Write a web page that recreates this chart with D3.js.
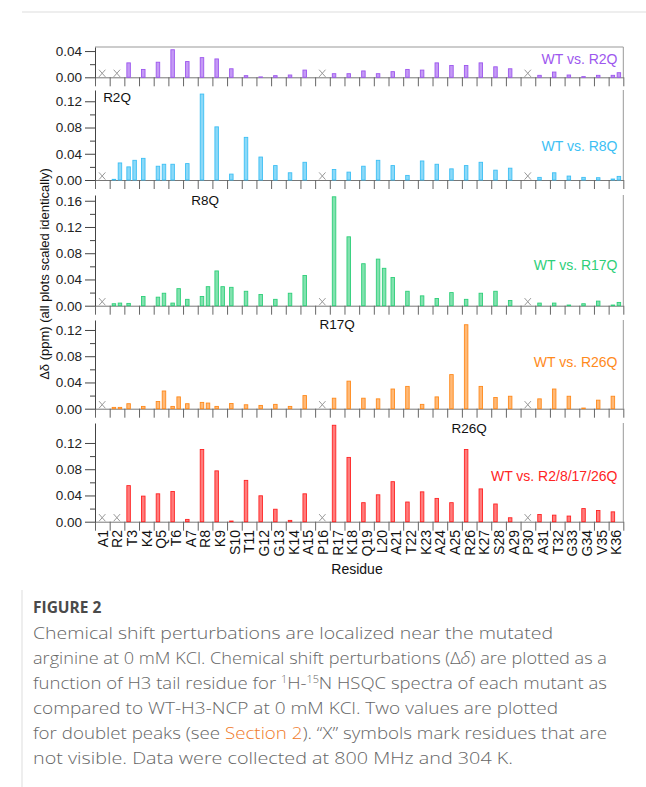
<!DOCTYPE html>
<html><head><meta charset="utf-8">
<script src="https://cdn.jsdelivr.net/npm/d3@7"></script>
<style>body{margin:0;background:#fff}svg{display:block}</style>
</head><body>
<svg id="c" width="646" height="787"></svg>
<script>
// ---------- data ----------
const residues = ["A1","R2","T3","K4","Q5","T6","A7","R8","K9","S10","T11","G12","G13","K14","A15","P16","R17","K18","Q19","L20","A21","T22","K23","A24","A25","R26","K27","S28","A29","P30","A31","T32","G33","G34","V35","K36"];
// null = residue not visible ("X")
const r2qA = [null,null,0.022,0.012,0.023,0.042,0.024,0.030,0.028,0.013,0.0025,0.0006,0.0025,0.0035,0.011,null,0.0055,0.0055,0.0097,0.0055,0.0086,0.012,0.011,0.022,0.018,0.018,0.022,0.016,0.013,null,0.003,0.008,0.0035,0.001,0.003,0.003];
const r2qB = {K36:0.007};
const r8qA = [null,0.001,0.020,0.033,0.021,0.024,0.025,0.131,0.081,0.009,0.065,0.035,0.022,0.011,0.027,null,0.016,0.012,0.021,0.030,0.022,0.007,0.029,0.024,0.017,0.022,0.027,0.015,0.018,null,0.004,0.011,0.006,0.004,0.0035,0.0015];
const r8qB = {R2:0.026,T3:0.030,Q5:0.024,K36:0.0055};
const r17qA = [null,0.003,0.0035,0.014,0.013,0.004,0.0097,0.014,0.053,0.028,0.022,0.017,0.0097,0.019,0.046,null,0.166,0.105,0.064,0.071,0.043,0.022,0.015,0.011,0.020,0.0097,0.019,0.022,0.008,null,0.004,0.004,0.001,0.003,0.007,0.001];
const r17qB = {R2:0.004,Q5:0.019,T6:0.026,R8:0.029,K9:0.029,L20:0.057,K36:0.005};
const r26qA = [null,0.002,0.0076,0.0035,0.011,0.0035,0.0076,0.0096,0.0035,0.008,0.006,0.005,0.0066,0.0035,0.020,null,0.016,0.042,0.016,0.015,0.030,0.034,0.0066,0.018,0.052,0.128,0.034,0.017,0.019,null,0.015,0.030,0.019,0.001,0.013,0.019];
const r26qB = {R2:0.002,Q5:0.027,T6:0.018,R8:0.0086};
const allA = [null,null,0.055,0.039,0.0425,0.046,0.0035,0.110,0.0775,0.001,0.063,0.0395,0.019,0.002,0.0425,null,0.147,0.098,0.029,0.041,0.061,0.030,0.0455,0.0355,0.029,0.110,0.050,0.027,0.006,null,0.011,0.010,0.0086,0.020,0.017,0.015];
const allB = {};
const seriesNames = ["WT vs. R2Q","WT vs. R8Q","WT vs. R17Q","WT vs. R26Q","WT vs. R2/8/17/26Q"];
const mutLabels = [null,"R2Q","R8Q","R17Q","R26Q"];
const mutResidues = [null,"R2","R8","R17","R26"];
const majorTicks = [[0,0.04],[0,0.04,0.08,0.12],[0,0.04,0.08,0.12,0.16],[0,0.04,0.08,0.12],[0,0.04,0.08,0.12]];
const minorTicks = [[0.02],[0.02,0.06,0.10],[0.02,0.06,0.10,0.14],[0.02,0.06,0.10],[0.02,0.06,0.10]];

// ---------- layout ----------
const svg = d3.select("#c");
const X0 = 95, X1 = 623.3, K = 656;
const colors = ["#9d57ee","#3dbff4","#2ecf79","#ff8a1c","#ff2424"];
const panels = [
  {top:47, base:77.3, A:r2qA, B:r2qB, labY:64.3, mutY:null},
  {top:90, base:180, A:r8qA, B:r8qB, labY:151, mutY:101.5},
  {top:195, base:305.7, A:r17qA, B:r17qB, labY:270, mutY:204.5},
  {top:320, base:408.7, A:r26qA, B:r26qB, labY:367, mutY:329.3},
  {top:423, base:521.7, A:allA, B:allB, labY:481, mutY:432.5}
];
const xb = d3.scaleBand().domain(residues).range([X0,X1]);
const bw = xb.bandwidth();
const xl = d3.scaleLinear().domain([0,36]).range([X0,X1]);
const FONT = "'Liberation Sans', Arial, sans-serif";

// card border
svg.append("line").attr("x1",22).attr("x2",646).attr("y1",12).attr("y2",12).attr("stroke","#ddd");
svg.append("line").attr("x1",22).attr("x2",22).attr("y1",590).attr("y2",787).attr("stroke","#ddd");

panels.forEach((p,i)=>{
  const g = svg.append("g");
  const y = d3.scaleLinear().domain([0,(p.base-p.top)/K]).range([p.base,p.top]);
  const col = colors[i];
  if(i===0) g.append("line").attr("x1",X0).attr("x2",X1).attr("y1",p.top).attr("y2",p.top).attr("stroke","#999").attr("stroke-width",1);
  g.append("line").attr("x1",X1).attr("x2",X1).attr("y1",p.top).attr("y2",p.base).attr("stroke","#999").attr("stroke-width",1);
  const xa = g.append("g").attr("transform",`translate(0,${p.base})`)
    .call(d3.axisBottom(xl).tickValues(d3.range(0,37)).tickSize(9).tickSizeOuter(0).tickFormat(""));
  xa.select(".domain").attr("stroke","#777");
  xa.selectAll(".tick line").attr("stroke","#666");
  const ya = g.append("g").attr("transform",`translate(${X0},0)`)
    .call(d3.axisLeft(y).tickValues(majorTicks[i]).tickSize(10).tickSizeOuter(0).tickPadding(3).tickFormat(d3.format(".2f")));
  ya.select(".domain").attr("stroke","#444");
  ya.selectAll(".tick line").attr("stroke","#444");
  ya.selectAll(".tick text").attr("font-family",FONT).attr("font-size",13.5).attr("fill","#222");
  const ym = g.append("g").attr("transform",`translate(${X0},0)`)
    .call(d3.axisLeft(y).tickValues(minorTicks[i]).tickSize(5).tickSizeOuter(0).tickFormat(""));
  ym.select(".domain").remove();
  ym.selectAll(".tick line").attr("stroke","#444");
  const bars = [];
  residues.forEach((r,j)=>{
    if(p.A[j]!==null) bars.push({r, v:p.A[j], slot:0});
    if(p.B[r]!==undefined) bars.push({r, v:p.B[r], slot:1});
  });
  g.selectAll("rect.bar").data(bars).join("rect").attr("class","bar")
    .attr("x",d=>xb(d.r)+bw*(d.slot?0.70:0.29)-1.75)
    .attr("width",3.5)
    .attr("y",d=>y(d.v))
    .attr("height",d=>p.base-y(d.v))
    .attr("fill",col).attr("fill-opacity",0.6)
    .attr("stroke",col).attr("stroke-width",0.9);
  const miss = residues.filter((r,j)=>p.A[j]===null);
  g.selectAll("path.x").data(miss).join("path").attr("class","x")
    .attr("d",r=>{const cx=xb(r)+bw*0.49, cy=p.base-4; return `M${cx-3.2},${cy-3.6}L${cx+3.2},${cy+3.6}M${cx+3.2},${cy-3.6}L${cx-3.2},${cy+3.6}`;})
    .attr("stroke","#999").attr("stroke-width",1).attr("fill","none");
  g.append("text").attr("x",617.5).attr("y",p.labY).attr("text-anchor","end")
    .attr("font-family",FONT).attr("font-size",14).attr("fill",col).text(seriesNames[i]);
  if(mutLabels[i]){
    g.append("text").attr("x",xb(mutResidues[i])+bw/2).attr("y",p.mutY).attr("text-anchor","middle")
      .attr("font-family",FONT).attr("font-size",13.5).attr("fill","#111").text(mutLabels[i]);
  }
  if(i===4){
    g.selectAll("text.res").data(residues).join("text").attr("class","res")
      .attr("transform",r=>`translate(${xb(r)+bw/2+0.5},530) rotate(-90)`)
      .attr("text-anchor","end").attr("dy","0.35em")
      .attr("font-family",FONT).attr("font-size",14).attr("fill","#111").text(r=>r);
  }
});
svg.append("text").attr("x",357).attr("y",573.5).attr("text-anchor","middle")
  .attr("font-family",FONT).attr("font-size",14).attr("fill","#111").text("Residue");
svg.append("text").attr("transform","translate(48.5,274) rotate(-90)").attr("text-anchor","middle")
  .attr("font-family",FONT).attr("font-size",13).attr("fill","#111").text("Δδ (ppm) (all plots scaled identically)");

// caption
const CF = "'Open Sans', Lato, sans-serif";
svg.append("text").attr("x",33).attr("y",613).attr("font-family",CF).attr("font-weight","bold")
  .attr("font-size",15.5).attr("fill","#4a4a4a").text("FIGURE 2");
const lines = [
  [["Chemical shift perturbations are localized near the mutated"]],
  [["arginine at 0 mM KCl. Chemical shift perturbations (Δ"],["δ","i"],[") are plotted as a"]],
  [["function of H3 tail residue for "],["1","sup"],["H-"],["15","sup"],["N HSQC spectra of each mutant as"]],
  [["compared to WT-H3-NCP at 0 mM KCl. Two values are plotted"]],
  [["for doublet peaks (see "],["Section 2","link"],["). “X” symbols mark residues that are"]],
  [["not visible. Data were collected at 800 MHz and 304 K."]]
];
const lineW = [520, 574, 574, 525, 574, 480];
lines.forEach((ln,k)=>{
  const t = svg.append("text").attr("x",33).attr("y",639+k*25).attr("font-family",CF)
    .attr("font-size",17).attr("font-weight",300).attr("fill","#666")
    .attr("textLength",lineW[k]).attr("lengthAdjust","spacingAndGlyphs");
  ln.forEach(([s,kind])=>{
    const ts = t.append("tspan").text(s);
    if(kind==="sup") { ts.attr("font-size",10).attr("baseline-shift","6"); }
    if(kind==="i") ts.attr("font-style","italic");
    if(kind==="link") ts.attr("fill","#f07a2a");
  });
});
</script>
</body></html>
